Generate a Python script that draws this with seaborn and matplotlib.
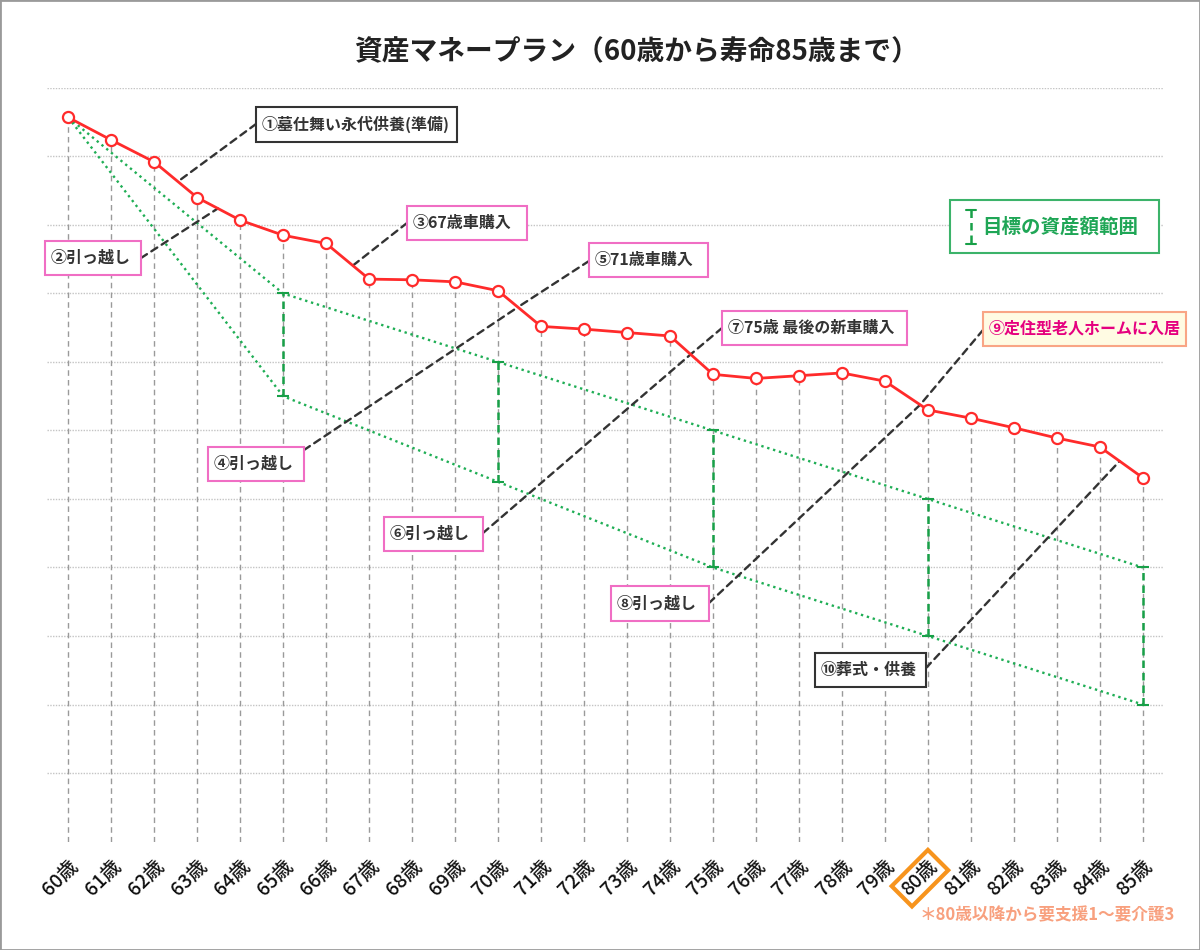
import numpy as np
import matplotlib
matplotlib.use("Agg")
import matplotlib.pyplot as plt
import seaborn as sns
from matplotlib.patches import Rectangle, ConnectionPatch
from matplotlib.transforms import Affine2D

sns.set_theme(style="white")
plt.rcParams['font.family'] = ['Noto Sans CJK JP', 'DejaVu Sans']

# データ（目盛なしの相対値）
ages = list(range(60, 86))
assets = [10.57, 10.24, 9.92, 9.40, 9.07, 8.85, 8.73, 8.21, 8.20, 8.17,
          8.04, 7.52, 7.48, 7.43, 7.38, 6.82, 6.76, 6.80, 6.84, 6.72,
          6.30, 6.18, 6.04, 5.89, 5.76, 5.31]
age_labels = [f"{a}歳" for a in ages]

range_ages = [65, 70, 75, 80, 85]
range_upper = [8, 7, 6, 5, 4]
range_lower = [6.5, 5.25, 4, 3, 2]

events = ["①墓仕舞い永代供養(準備)", "②引っ越し", "③67歳車購入", "④引っ越し",
          "⑤71歳車購入", "⑥引っ越し", "⑦75歳 最後の新車購入", "⑧引っ越し",
          "⑨定住型老人ホームに入居", "⑩葬式・供養"]
event_ages = [62.55, 63.48, 66.62, 70.46, 70.46, 74.48, 74.48, 79.82, 79.82, 84.46]

red = "#ff2b2b"
green = "#1fae55"
pink = "#f06ec4"

fig = plt.figure(figsize=(12, 9.5), dpi=100)
ax = fig.add_axes([0.0390, 0.11421, 0.93125, 0.79316])
# ピクセル座標(左上原点)用
pix = Affine2D().scale(1 / 1200, -1 / 950).translate(0, 1) + fig.transFigure

ax.set_xlim(59.5, 85.5)
ax.set_ylim(0, 11)
ax.set_yticks(range(1, 12))
ax.set_yticklabels([])
ax.grid(True, axis='y', color='#c4c4c4', linestyle=(0, (1, 1)), lw=1)
ax.set_axisbelow(True)
sns.despine(ax=ax, left=True, bottom=True)

# 縦の点線
ax.vlines(ages, 0, assets, colors='#9a9a9a', linestyles=(0, (4, 3)), lw=1, zorder=1)

# 目標範囲
ax.plot([ages[0]] + range_ages, [assets[0]] + range_upper, color=green,
        lw=1.7, linestyle=(0, (1, 1.6)), zorder=2)
ax.plot([ages[0]] + range_ages, [assets[0]] + range_lower, color=green,
        lw=1.7, linestyle=(0, (1, 1.6)), zorder=2)
mid = (np.array(range_upper) + np.array(range_lower)) / 2
half = (np.array(range_upper) - np.array(range_lower)) / 2
eb = ax.errorbar(range_ages, mid, yerr=half, fmt='none', ecolor='#18a048',
                 elinewidth=1.8, capsize=4, capthick=1.5, zorder=2)
eb.lines[2][0].set_linestyle((0, (3, 2)))

# 資産推移
sns.lineplot(x=ages, y=assets, ax=ax, color=red, lw=2, marker='o', markersize=8,
             markerfacecolor='white', markeredgecolor=red, markeredgewidth=1.6, zorder=4)

ax.set_xticks(ages)
ax.set_xticklabels(age_labels, rotation=45, ha='right', va='top',
                   rotation_mode='anchor', fontsize=14, fontweight='medium', color='#111111')
ax.tick_params(axis='x', length=0, pad=11)
ax.set_xlabel("")
ax.set_ylabel("")
lab80 = ax.get_xticklabels()[ages.index(80)]
lab80.set_bbox(dict(boxstyle='square,pad=0.25', fc='none', ec='#f7941d', lw=3))

# 吹き出し (x, y, w, h, 線の始点)
boxes = [
    ((256, 107, 201, 35), (256, 124), '#333333', 'white', '#333333'),
    ((45, 241, 96, 34), (141, 258), pink, 'white', '#333333'),
    ((407, 206, 120, 34), (407, 223), pink, 'white', '#333333'),
    ((208, 447, 96, 34), (304, 450), pink, 'white', '#333333'),
    ((589, 243, 119, 34), (589, 261), pink, 'white', '#333333'),
    ((384, 517, 99, 34), (483, 533), pink, 'white', '#333333'),
    ((722, 311, 185, 34), (722, 328), pink, 'white', '#333333'),
    ((611, 586, 98, 35), (709, 603), pink, 'white', '#333333'),
    ((983, 312, 203, 34), (983, 330), '#f9a585', '#fffbe3', '#e5007f'),
    ((815, 653, 111, 34), (926, 668), '#333333', 'white', '#333333'),
]
for label, age, (rect, start, ec, fc, tc) in zip(events, event_ages, boxes):
    x, y, w, h = rect
    target = (age, np.interp(age, ages, assets))
    con = ConnectionPatch(xyA=start, coordsA=pix, xyB=target, coordsB=ax.transData,
                          color='#333333', lw=1.7, linestyle=(0, (3, 2.2)), zorder=3)
    ax.add_artist(con)
    fig.add_artist(Rectangle((x, y), w, h, transform=pix, fc=fc, ec=ec, lw=1.5, zorder=5))
    fig.text(x + 6, y + h / 2, label, transform=pix, ha='left', va='center',
             fontsize=11.5, fontweight='bold', color=tc, zorder=6)

# 凡例
fig.add_artist(Rectangle((950, 200), 209, 53, transform=pix, fc='white', ec='#3cb36a', lw=1.5, zorder=5))
fig.add_artist(plt.Line2D([971, 971], [210, 244], transform=pix, color='#18a048', lw=1.8,
                          linestyle=(0, (3, 2)), zorder=6))
fig.add_artist(plt.Line2D([966, 976], [210, 210], transform=pix, color='#18a048', lw=1.5, zorder=6))
fig.add_artist(plt.Line2D([966, 976], [244, 244], transform=pix, color='#18a048', lw=1.5, zorder=6))
fig.text(982, 227, "目標の資産額範囲", transform=pix, ha='left', va='center',
         fontsize=14, fontweight='bold', color='#1fa656', zorder=6)

fig.text(636, 52, "資産マネープラン（60歳から寿命85歳まで）", transform=pix, ha='center',
         va='center', fontsize=20, fontweight='bold', color='#222222')
fig.text(1175, 915, "＊80歳以降から要支援1～要介護3", transform=pix, ha='right', va='center',
         fontsize=12, fontweight='bold', color='#f8a07e')

fig.add_artist(Rectangle((0, 0), 1, 1, transform=fig.transFigure, fill=False, ec='#9a9a9a', lw=2))

plt.savefig("out.png", dpi=100)
